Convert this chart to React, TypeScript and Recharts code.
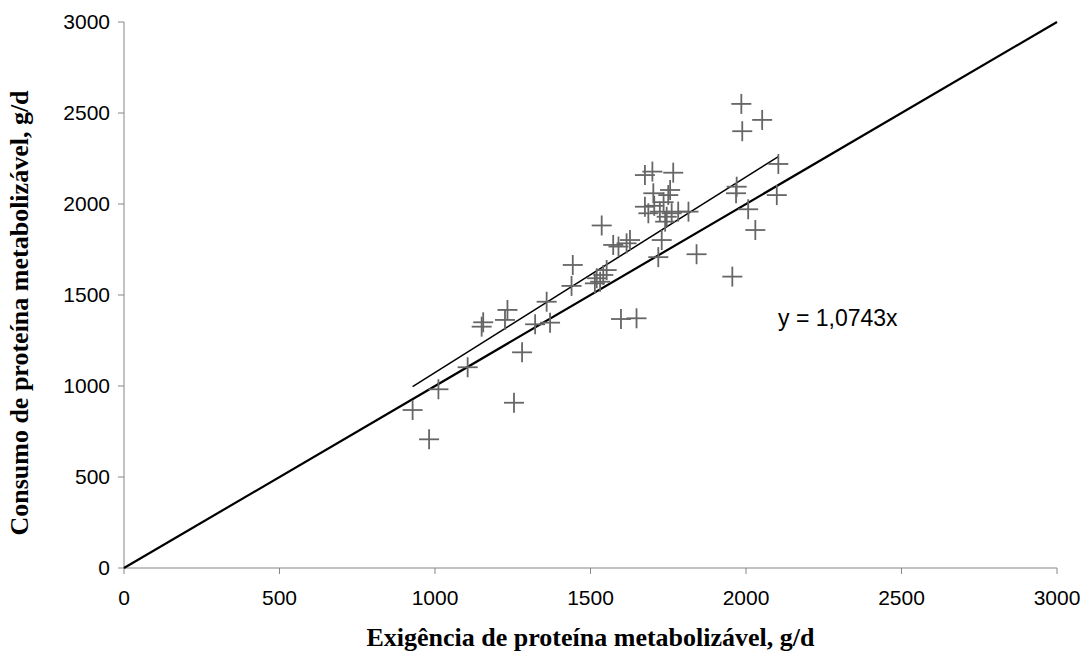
import React from 'react';
import { ScatterChart, Scatter, XAxis, YAxis, ReferenceDot } from 'recharts';

const requirement = [
  928, 981, 1011, 1105, 1150, 1155, 1225, 1233, 1254, 1280, 1322, 1359, 1370, 1439, 1443,
  1514, 1520, 1531, 1536, 1541, 1552, 1573, 1590, 1598, 1616, 1627, 1648, 1675, 1699, 1766,
  1702, 1756, 1675, 1686, 1723, 1745, 1761, 1782, 1815, 1750, 1740, 1718, 1729, 1841, 1956,
  1968, 1970, 2007, 2030, 2099, 2104, 1985, 1988, 2052, 1705, 1735,
];
const intake = [
  868, 707, 982, 1103, 1326, 1350, 1363, 1418, 908, 1185, 1339, 1463, 1348, 1550, 1665,
  1564, 1592, 1573, 1882, 1610, 1637, 1775, 1766, 1368, 1784, 1802, 1372, 2159, 2178, 2172,
  2059, 2077, 1985, 1949, 1958, 1930, 1949, 1958, 1958, 2049, 1903, 1708, 1802, 1724, 1601,
  2059, 2095, 1971, 1857, 2049, 2220, 2550, 2400, 2462, 1990, 2010,
];
const ticks = [0, 500, 1000, 1500, 2000, 2500, 3000];
const slope = 1.0743;
const fitRange = [928, 2104];
const equationText = 'y = 1,0743x';
const xTitle = 'Exigência de proteína metabolizável, g/d';
const yTitle = 'Consumo de proteína metabolizável, g/d';

const points = requirement.map((x, i) => ({ x, y: intake[i] }));
const identityLine = [{ x: 0, y: 0 }, { x: 3000, y: 3000 }];
const fitLine = fitRange.map(x => ({ x, y: x * slope }));

const Plus = (props: any) => {
  const { cx, cy } = props;
  if (cx == null || cy == null) return null;
  return (
    <g stroke="#666666" strokeWidth={1.8}>
      <line x1={cx - 10} y1={cy} x2={cx + 10} y2={cy} />
      <line x1={cx} y1={cy - 10} x2={cx} y2={cy + 10} />
    </g>
  );
};

const NoDot = () => null;

const sans = '"Liberation Sans", Arial, sans-serif';
const serif = '"Liberation Serif", "Times New Roman", serif';

// y title drawn by hand so it can sit a little below the plot centre, like the original
const YTitle = (p: any) => {
  const vb = p.viewBox || {};
  const cx = 22;
  const cy = vb.y + vb.height / 2 + 18;
  return (
    <text
      x={cx}
      y={cy}
      transform={`rotate(-90, ${cx}, ${cy})`}
      textAnchor="middle"
      dominantBaseline="middle"
      fontFamily={serif}
      fontWeight="bold"
      fontSize={26}
      fill="#000"
    >
      {yTitle}
    </text>
  );
};

export default function App() {
  return (
    <div style={{ position: 'absolute', left: 0, top: 0, width: 1091, height: 659, background: '#fff' }}>
      <ScatterChart width={1091} height={659} margin={{ top: 22, right: 34, left: 64, bottom: 51 }}>
        <XAxis
          type="number"
          dataKey="x"
          domain={[0, 3000]}
          ticks={ticks}
          height={40}
          stroke="#868686"
          tickSize={6}
          tick={{ fill: '#000', fontSize: 21, fontFamily: sans, dy: 14 }}
          label={{
            value: xTitle,
            position: 'insideBottom',
            offset: -38,
            style: { fontFamily: serif, fontWeight: 'bold', fontSize: 26, fill: '#000' },
          }}
        />
        <YAxis
          type="number"
          dataKey="y"
          domain={[0, 3000]}
          ticks={ticks}
          width={60}
          stroke="#868686"
          tickSize={6}
          tick={{ fill: '#000', fontSize: 21, fontFamily: sans, dx: -6 }}
          label={<YTitle />}
        />
        <Scatter data={identityLine} line={{ stroke: '#000', strokeWidth: 2.2 }} shape={NoDot} isAnimationActive={false} />
        <Scatter data={fitLine} line={{ stroke: '#000', strokeWidth: 1.5 }} shape={NoDot} isAnimationActive={false} />
        <Scatter data={points} shape={Plus} isAnimationActive={false} />
        <ReferenceDot
          x={2103}
          y={1363}
          r={0}
          fill="none"
          stroke="none"
          label={(p: any) => {
            const vb = p.viewBox || {};
            const x = vb.x + (vb.width || 0) / 2;
            const y = vb.y + (vb.height || 0) / 2;
            return (
              <text x={x} y={y} dominantBaseline="middle" fontSize={23} fontFamily={sans} fill="#000">
                {equationText}
              </text>
            );
          }}
        />
      </ScatterChart>
    </div>
  );
}
